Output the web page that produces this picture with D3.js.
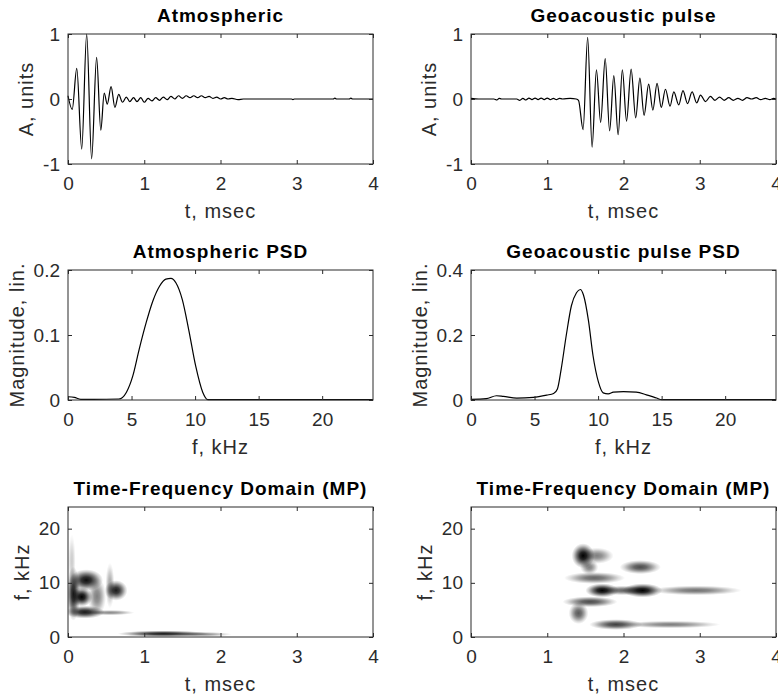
<!DOCTYPE html>
<html>
<head>
<meta charset="utf-8">
<script src="https://cdn.jsdelivr.net/npm/d3@7"></script>
<style>
    body { margin: 0; background: white; }
    text { font-family: "Liberation Sans", Arial, Helvetica, sans-serif; }
</style>
</head>
<body>
<svg id="mainSvg" width="778" height="698"></svg>
<script>
// ---------- data ----------
// atmospheric waveform, extrema (t in msec, A in units)
var atmT = [0.000, 0.055, 0.115, 0.180, 0.245, 0.310, 0.375, 0.430, 0.475, 0.515,
            0.565, 0.615, 0.665, 0.715, 0.765, 0.810, 0.860, 0.905, 0.955, 1.000,
            1.050, 1.100, 1.150, 1.200, 1.250, 1.300, 1.350, 1.400, 1.450, 1.500,
            1.550, 1.600, 1.650, 1.700, 1.750, 1.800, 1.850, 1.900, 1.950, 2.000,
            2.050, 2.100, 2.150, 2.230, 2.300, 2.930, 2.950, 2.970, 3.480, 3.500,
            3.520, 3.690, 3.710, 3.730, 4.000];
var atmA = [0.05, -0.16, 0.47, -0.77, 1.00, -0.92, 0.64, -0.48, 0.09, -0.08,
            0.19, -0.13, 0.07, -0.05, 0.03, -0.04, 0.02, -0.04, 0.02, -0.05,
            0.01, -0.03, 0.02, -0.02, 0.03, -0.01, 0.04, 0.00, 0.05, 0.01,
            0.05, 0.02, 0.05, 0.02, 0.05, 0.02, 0.04, 0.01, 0.03, 0.00,
            0.02, 0.00, 0.01, -0.01, 0.00, 0.00, -0.01, 0.00, 0.00, 0.015,
            0.00, 0.00, 0.015, 0.00, 0.00];

// geoacoustic pulse waveform, extrema
var geoT = [0.000, 0.100, 0.300, 0.340, 0.370, 0.400, 0.600, 0.640, 0.680, 0.720,
            0.760, 0.800, 0.840, 0.880, 0.920, 0.960, 1.000, 1.040, 1.080, 1.120,
            1.160, 1.200, 1.300, 1.380, 1.410, 1.470, 1.530, 1.588, 1.645, 1.700,
            1.760, 1.818, 1.873, 1.930, 1.985, 2.040, 2.100, 2.160, 2.215, 2.270,
            2.330, 2.385, 2.440, 2.495, 2.550, 2.610, 2.660, 2.725, 2.780, 2.840,
            2.900, 2.960, 3.010, 3.075, 3.140, 3.200, 3.260, 3.320, 3.380, 3.440,
            3.500, 3.560, 3.620, 3.680, 3.740, 3.800, 3.860, 3.920, 3.970, 4.000];
var geoA = [0.01, 0.00, 0.00, -0.015, 0.01, 0.00, 0.00, -0.02, 0.01, -0.015,
            0.015, -0.01, 0.015, -0.01, 0.015, -0.01, 0.015, -0.01, 0.01, -0.01,
            0.01, 0.00, 0.01, 0.00, -0.02, -0.47, 0.95, -0.74, 0.45, -0.36,
            0.62, -0.49, 0.36, -0.55, 0.45, -0.34, 0.46, -0.29, 0.32, -0.25,
            0.23, -0.17, 0.24, -0.13, 0.15, -0.11, 0.11, -0.09, 0.13, -0.07,
            0.11, -0.06, 0.06, -0.04, 0.04, -0.02, 0.03, -0.02, 0.02, -0.02,
            0.01, -0.02, 0.02, 0.00, 0.02, -0.01, 0.01, -0.01, 0.01, 0.00];

// PSD curves (f in kHz, magnitude lin.)
var atmPsdF = [0, 0.5, 1.0, 2.0, 4.0, 4.6, 5.1, 5.6, 6.15, 6.67, 7.2, 7.7, 8.1, 8.5, 9.0, 9.5, 10.05, 10.6, 11.0, 24];
var atmPsdM = [0.005, 0.004, 0.001, 0.001, 0.0015, 0.012, 0.037, 0.078, 0.119, 0.152, 0.175, 0.186, 0.187, 0.180, 0.154, 0.108, 0.052, 0.012, 0.0005, 0.0005];
var geoPsdF = [0, 1.2, 2.0, 2.55, 3.6, 4.9, 5.96, 6.5, 6.8, 7.1, 7.5, 7.9, 8.3, 8.6, 8.85, 9.24, 9.6, 10.03, 10.4, 10.8, 11.2, 12.0, 13.0, 13.8, 14.6, 15.0, 24];
var geoPsdM = [0.002, 0.004, 0.013, 0.011, 0.006, 0.008, 0.015, 0.020, 0.034, 0.096, 0.200, 0.290, 0.330, 0.340, 0.323, 0.245, 0.137, 0.055, 0.022, 0.019, 0.024, 0.026, 0.024, 0.016, 0.006, 0.001, 0.001];

// MP atoms of the time-frequency maps: [t centre, f centre, t half-width, f half-width, darkness]
var atmAtoms = [
    [0.07, 8.0, 0.09, 5.0, 0.90],
    [0.05, 14.0, 0.05, 5.0, 0.20],
    [0.24, 10.5, 0.22, 2.0, 0.95],
    [0.18, 7.4, 0.14, 1.8, 1.00],
    [0.22, 4.6, 0.26, 1.2, 0.90],
    [0.55, 4.5, 0.32, 0.5, 0.45],
    [0.38, 7.5, 0.12, 3.5, 0.50],
    [0.55, 9.5, 0.06, 4.2, 0.35],
    [0.63, 8.6, 0.15, 1.9, 0.90],
    [1.25, 0.6, 0.60, 0.6, 0.90],
    [1.75, 0.5, 0.40, 0.45, 0.45]
];
var geoAtoms = [
    [1.47, 15.0, 0.15, 2.3, 1.00],
    [1.65, 15.0, 0.22, 1.5, 0.50],
    [1.55, 12.9, 0.12, 1.4, 0.50],
    [1.62, 10.9, 0.40, 1.1, 0.60],
    [1.72, 8.6, 0.22, 1.3, 1.00],
    [2.00, 8.6, 0.30, 0.9, 0.60],
    [2.25, 8.6, 0.26, 1.3, 1.00],
    [2.95, 8.6, 0.60, 0.9, 0.55],
    [2.22, 12.9, 0.27, 1.3, 0.70],
    [1.56, 6.5, 0.36, 1.0, 0.70],
    [1.41, 4.4, 0.13, 2.0, 0.65],
    [1.90, 2.3, 0.35, 1.0, 0.75],
    [2.62, 2.3, 0.65, 0.7, 0.50]
];

// ticks and texts
var timeTicks = [0, 1, 2, 3, 4];
var freqTicks = [0, 5, 10, 15, 20];
var ampTicks = [-1, 0, 1];
var atmPsdTicks = [0, 0.1, 0.2];
var geoPsdTicks = [0, 0.2, 0.4];
var tfTicks = [0, 10, 20];
var titles = ["Atmospheric", "Geoacoustic pulse", "Atmospheric PSD", "Geoacoustic pulse PSD",
              "Time-Frequency Domain (MP)", "Time-Frequency Domain (MP)"];
var xLabels = ["t, msec", "f, kHz", "t, msec"];
var yLabels = ["A, units", "Magnitude, lin.", "f, kHz"];

// ---------- style ----------
var axisColor = "#2b2b2b";
var lineColor = "black";
var colLeft = [68, 471];
var rowTop = [34, 270, 507];
var axW = 305, axH = 130;

window.addEventListener("load", drawAll);

function drawAll()
{
    const svg = d3.select("#mainSvg");
    const defs = svg.append("defs");
    const grad = defs.append("radialGradient").attr("id", "blob");
    // soft, roughly gaussian fall-off
    [[0, 1], [0.3, 0.85], [0.55, 0.55], [0.8, 0.2], [1, 0]].forEach(s => {
        grad.append("stop").attr("offset", s[0]).attr("stop-color", "black").attr("stop-opacity", s[1]);
    });

    const tDom = [0, 4], fDom = [0, 24];
    // row 1: waveforms
    panel(svg, 0, 0, tDom, [-1, 1], timeTicks, ampTicks, titles[0], xLabels[0], yLabels[0], function (g, x, y) {
        drawLine(g, x, y, atmT, atmA);
    });
    panel(svg, 1, 0, tDom, [-1, 1], timeTicks, ampTicks, titles[1], xLabels[0], yLabels[0], function (g, x, y) {
        drawLine(g, x, y, geoT, geoA);
    });
    // row 2: PSD
    panel(svg, 0, 1, fDom, [0, 0.2], freqTicks, atmPsdTicks, titles[2], xLabels[1], yLabels[1], function (g, x, y) {
        drawLine(g, x, y, atmPsdF, atmPsdM);
    });
    panel(svg, 1, 1, fDom, [0, 0.4], freqTicks, geoPsdTicks, titles[3], xLabels[1], yLabels[1], function (g, x, y) {
        drawLine(g, x, y, geoPsdF, geoPsdM);
    });
    // row 3: time-frequency maps
    panel(svg, 0, 2, tDom, fDom, timeTicks, tfTicks, titles[4], xLabels[2], yLabels[2], function (g, x, y) {
        drawTF(g, x, y, atmAtoms, "clipA");
    });
    panel(svg, 1, 2, tDom, fDom, timeTicks, tfTicks, titles[5], xLabels[2], yLabels[2], function (g, x, y) {
        drawTF(g, x, y, geoAtoms, "clipB");
    });
}

/**
 * one MATLAB-like axes: box, inward ticks on four sides, labels, title
 */
function panel(svg, col, row, xDom, yDom, xTicks, yTicks, title, xLabel, yLabel, plotFn)
{
    const g = svg.append("g").attr("transform", `translate(${colLeft[col]}, ${rowTop[row]})`);
    const x = d3.scaleLinear().domain(xDom).range([0, axW]);
    const y = d3.scaleLinear().domain(yDom).range([axH, 0]);

    plotFn(g, x, y);

    const fmt = d => String(d);
    g.append("g").attr("transform", `translate(0, ${axH})`)
        .call(d3.axisBottom(x).tickValues(xTicks).tickFormat(fmt).tickSizeInner(-4).tickSizeOuter(0).tickPadding(13));
    const yl = g.append("g")
        .call(d3.axisLeft(y).tickValues(yTicks).tickFormat(fmt).tickSizeInner(-4).tickSizeOuter(0).tickPadding(8));
    g.append("g").call(d3.axisTop(x).tickValues(xTicks).tickFormat("").tickSizeInner(-4).tickSizeOuter(0));
    g.append("g").attr("transform", `translate(${axW}, 0)`)
        .call(d3.axisRight(y).tickValues(yTicks).tickFormat("").tickSizeInner(-4).tickSizeOuter(0));

    g.selectAll(".tick text").attr("font-size", 19).attr("fill", axisColor)
        .style("font-family", '"Liberation Sans", Arial, sans-serif');
    g.selectAll(".tick line").attr("stroke", axisColor);
    g.selectAll(".domain").remove();

    g.append("rect").attr("width", axW).attr("height", axH)
        .attr("fill", "none").attr("stroke", axisColor).attr("stroke-width", 1);

    g.append("text").text(title)
        .attr("x", axW / 2).attr("y", -12)
        .attr("text-anchor", "middle").attr("font-size", 19).attr("font-weight", "bold")
        .attr("letter-spacing", 1).attr("fill", "black");

    g.append("text").text(xLabel)
        .attr("x", axW / 2).attr("y", axH + 54)
        .attr("text-anchor", "middle").attr("font-size", 20).attr("letter-spacing", 1)
        .attr("fill", axisColor);

    const bb = yl.node().getBBox();
    g.append("text").text(yLabel)
        .attr("transform", `translate(${bb.x - 10}, ${axH / 2}) rotate(-90)`)
        .attr("text-anchor", "middle").attr("font-size", 20).attr("letter-spacing", 1)
        .attr("fill", axisColor);
    return g;
}

function drawLine(g, x, y, X, Y)
{
    const line = d3.line().x(i => x(X[i])).y(i => y(Y[i])).curve(d3.curveMonotoneX);
    g.append("path").attr("d", line(d3.range(X.length)))
        .attr("fill", "none").attr("stroke", lineColor).attr("stroke-width", 1.2);
}

function drawTF(g, x, y, atoms, clipId)
{
    g.append("clipPath").attr("id", clipId)
        .append("rect").attr("width", axW).attr("height", axH);
    g.append("g").attr("clip-path", `url(#${clipId})`)
        .selectAll("ellipse").data(atoms).join("ellipse")
        .attr("cx", d => x(d[0]))
        .attr("cy", d => y(d[1]))
        .attr("rx", d => x(d[0] + d[2]) - x(d[0]))
        .attr("ry", d => y(d[1]) - y(d[1] + d[3]))
        .attr("fill", "url(#blob)")
        .attr("opacity", d => d[4]);
}
</script>
</body>
</html>
